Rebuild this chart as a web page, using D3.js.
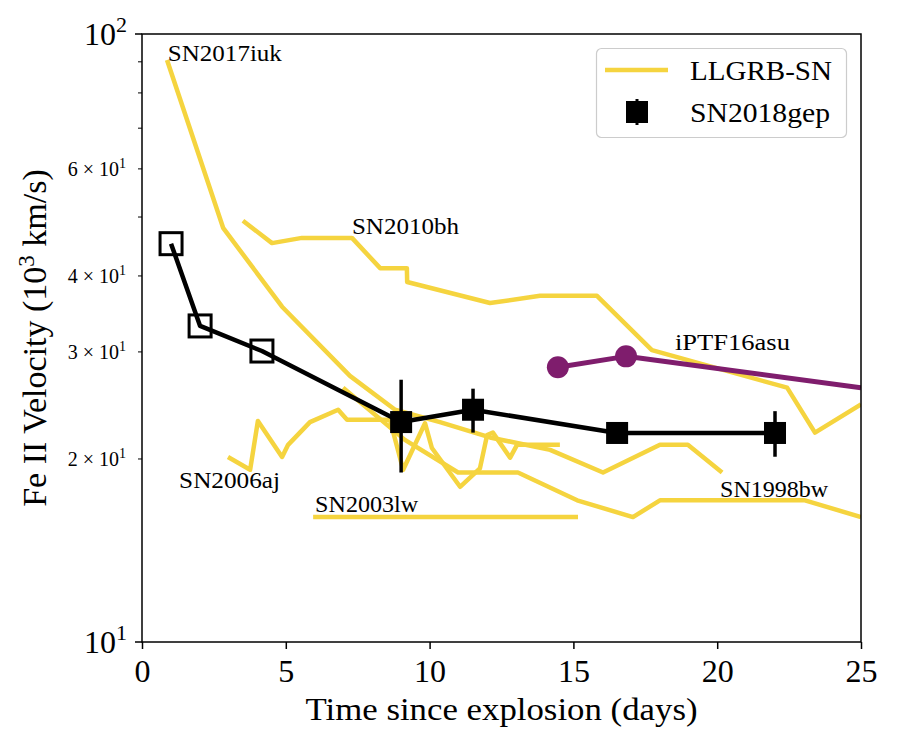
<!DOCTYPE html>
<html><head><meta charset="utf-8">
<script src="https://cdn.jsdelivr.net/npm/d3@7"></script>
<style>
body{margin:0;background:#fff}
text{font-family:"Liberation Serif","Times New Roman",serif;fill:#000}
</style>
</head><body>
<svg id="c" width="900" height="750"></svg>
<script>
// ---- data ----
const xTicks = [0, 5, 10, 15, 20, 25];
const yMajor = [10, 100];
const yMinor = [20, 30, 40, 50, 60, 70, 80, 90];
const yMinorLabeled = [20, 30, 40, 60];

const sn2017iuk_t = [0.87, 2.82, 4.87, 7.23, 8.80, 10.36, 12.10, 14.19, 16.03, 18.01, 18.98, 20.17];
const sn2017iuk_v = [90.6, 48.0, 35.6, 27.4, 24.1, 23.0, 21.7, 20.7, 19.0, 21.1, 21.1, 19.0];

const sn1998bw_t = [6.99, 9.14, 10.99, 13.07, 15.13, 17.07, 18.01, 23.05, 25.0];
const sn1998bw_v = [26.2, 21.5, 19.0, 19.0, 17.1, 16.05, 17.1, 17.1, 16.05];

const sn2010bh_t = [3.51, 4.52, 5.56, 7.30, 8.28, 9.21, 9.22, 12.10, 13.84, 15.82, 17.73, 22.43, 23.40, 25.0];
const sn2010bh_v = [49.3, 45.3, 46.2, 46.2, 41.2, 41.2, 39.1, 36.1, 37.1, 37.1, 30.2, 26.2, 22.1, 24.6];

const sn2006aj_t = [2.99, 3.76, 4.03, 4.87, 5.08, 5.84, 6.82, 7.13, 8.62, 9.08, 9.84, 10.08, 11.06, 11.75, 12.0, 12.2, 12.8, 13.04, 14.53];
const sn2006aj_v = [20.15, 19.2, 23.1, 20.15, 21.1, 23.0, 24.1, 23.2, 23.2, 19.2, 22.9, 20.85, 18.0, 19.3, 21.9, 22.1, 20.1, 21.1, 21.1];

const sn2003lw_t = [5.95, 15.16];
const sn2003lw_v = [16.05, 16.05];

const iptf16asu_t = [14.46, 16.83, 25.0];
const iptf16asu_v = [28.3, 29.5, 26.2];
const iptf16asu_marked = [true, true, false];

const sn2018gep_t = [1.01, 2.02, 4.17, 9.01, 11.51, 16.52, 22.01];
const sn2018gep_v = [45.2, 33.1, 30.1, 23.0, 24.1, 22.07, 22.07];
const sn2018gep_err = [0, 0, 0, 4.0, 2.0, 0.5, 1.9];
const sn2018gep_open = [true, true, true, false, false, false, false];

const labelNames = ["SN2017iuk", "SN2010bh", "iPTF16asu", "SN2006aj", "SN2003lw", "SN1998bw"];
const labelT = [0.90, 7.30, 18.53, 1.29, 6.02, 20.10];
const labelV = [90.3, 46.9, 30.2, 17.9, 16.36, 17.32];
const labelW = [114, 107, 115, 101, 103, 108];

const legendNames = ["LLGRB-SN", "SN2018gep"];

// ---- layout ----
const L = 142, R = 861, T = 34, B = 642;
const YELLOW = "#f5d43f", PURPLE = "#7f1d6d";

const svg = d3.select("#c");
const x = d3.scaleLinear().domain([0, 25]).range([L, R]);
const y = d3.scaleLog().domain([10, 100]).range([B, T]);

svg.append("defs").append("clipPath").attr("id", "clip")
  .append("rect").attr("x", L).attr("y", T).attr("width", R - L).attr("height", B - T);

const plot = svg.append("g").attr("clip-path", "url(#clip)");
const line = d3.line().x(d => x(d[0])).y(d => y(d[1]));
const zip = (a, b) => a.map((v, i) => [v, b[i]]);

const yellowSeries = [
  zip(sn2017iuk_t, sn2017iuk_v),
  zip(sn1998bw_t, sn1998bw_v),
  zip(sn2010bh_t, sn2010bh_v),
  zip(sn2006aj_t, sn2006aj_v),
  zip(sn2003lw_t, sn2003lw_v)
];
plot.selectAll("path.ll").data(yellowSeries).enter().append("path")
  .attr("class", "ll").attr("d", line)
  .attr("fill", "none").attr("stroke", YELLOW).attr("stroke-width", 4.5)
  .attr("stroke-linejoin", "round").attr("stroke-linecap", "butt");

// iPTF16asu
const iptf = zip(iptf16asu_t, iptf16asu_v);
plot.append("path").attr("d", line(iptf)).attr("fill", "none")
  .attr("stroke", PURPLE).attr("stroke-width", 5).attr("stroke-linejoin", "round");
plot.selectAll("circle.ip").data(iptf.filter((d, i) => iptf16asu_marked[i])).enter()
  .append("circle").attr("class", "ip")
  .attr("cx", d => x(d[0])).attr("cy", d => y(d[1])).attr("r", 11).attr("fill", PURPLE);

// SN2018gep
const gep = sn2018gep_t.map((t, i) => ({t, v: sn2018gep_v[i], e: sn2018gep_err[i], open: sn2018gep_open[i]}));
plot.append("path").attr("d", line(gep.map(d => [d.t, d.v]))).attr("fill", "none")
  .attr("stroke", "#000").attr("stroke-width", 4.5).attr("stroke-linejoin", "round");
gep.filter(d => d.e > 0).forEach(d => {
  plot.append("line").attr("x1", x(d.t)).attr("x2", x(d.t))
    .attr("y1", y(d.v + d.e)).attr("y2", y(d.v - d.e))
    .attr("stroke", "#000").attr("stroke-width", 3.5);
});
const S = 22;
gep.forEach(d => {
  plot.append("rect").attr("x", x(d.t) - S / 2).attr("y", y(d.v) - S / 2)
    .attr("width", S).attr("height", S)
    .attr("fill", d.open ? "none" : "#000")
    .attr("stroke", "#000").attr("stroke-width", d.open ? 3 : 0);
});

// annotations
labelNames.forEach((n, i) => {
  svg.append("text").attr("x", x(labelT[i])).attr("y", y(labelV[i]))
    .attr("font-size", 24).attr("textLength", labelW[i]).attr("lengthAdjust", "spacingAndGlyphs")
    .text(n);
});

// frame
svg.append("rect").attr("x", L).attr("y", T).attr("width", R - L).attr("height", B - T)
  .attr("fill", "none").attr("stroke", "#000").attr("stroke-width", 1.5);

// x axis
const xa = svg.append("g").attr("transform", `translate(0,${B})`)
  .call(d3.axisBottom(x).tickValues(xTicks).tickSize(7).tickPadding(10).tickFormat(d3.format("d")));
xa.select(".domain").remove();
xa.selectAll("line").attr("stroke-width", 1.5);
xa.selectAll("text").attr("font-size", 32).attr("font-family", "Liberation Serif, serif");

// y axis major/minor ticks
const ya = svg.append("g");
yMajor.forEach(v => ya.append("line").attr("x1", L - 7).attr("x2", L).attr("y1", y(v)).attr("y2", y(v)).attr("stroke", "#000").attr("stroke-width", 1.5));
yMinor.forEach(v => ya.append("line").attr("x1", L - 4).attr("x2", L).attr("y1", y(v)).attr("y2", y(v)).attr("stroke", "#000").attr("stroke-width", 1));
yMajor.forEach(v => {
  const t = ya.append("text").attr("x", 127).attr("y", y(v) + 11).attr("text-anchor", "end").attr("font-size", 32);
  t.append("tspan").text("10");
  t.append("tspan").attr("font-size", 22).attr("dy", -13).text(String(Math.round(Math.log10(v))));
});
yMinorLabeled.forEach(v => {
  const m = v / 10;
  const t = ya.append("text").attr("x", 126).attr("y", y(v) + 7).attr("text-anchor", "end").attr("font-size", 20);
  t.append("tspan").text(m + " \u00d7 10");
  t.append("tspan").attr("font-size", 14).attr("dy", -8).text("1");
});

// axis labels
svg.append("text").attr("x", (L + R) / 2).attr("y", 720).attr("text-anchor", "middle")
  .attr("font-size", 32).attr("textLength", 392).attr("lengthAdjust", "spacingAndGlyphs")
  .text("Time since explosion (days)");
const yl = svg.append("text").attr("transform", `translate(46,${(T + B) / 2}) rotate(-90)`)
  .attr("text-anchor", "middle").attr("font-size", 34);
yl.append("tspan").text("Fe II Velocity (10");
yl.append("tspan").attr("font-size", 23).attr("dy", -12).text("3");
yl.append("tspan").attr("dy", 12).text(" km/s)");

// legend
const lg = svg.append("g");
lg.append("rect").attr("x", 596.5).attr("y", 48.5).attr("width", 250).attr("height", 89).attr("rx", 5)
  .attr("fill", "#fff").attr("fill-opacity", 0.8).attr("stroke", "#cccccc").attr("stroke-width", 1.2);
lg.append("line").attr("x1", 605).attr("x2", 668).attr("y1", 70).attr("y2", 70)
  .attr("stroke", YELLOW).attr("stroke-width", 4.5);
lg.append("line").attr("x1", 637).attr("x2", 637).attr("y1", 99).attr("y2", 125)
  .attr("stroke", "#000").attr("stroke-width", 3);
lg.append("rect").attr("x", 637 - 11).attr("y", 112 - 11).attr("width", 22).attr("height", 22).attr("fill", "#000");
lg.append("text").attr("x", 690).attr("y", 80).attr("font-size", 28).attr("textLength", 142).attr("lengthAdjust", "spacingAndGlyphs").text(legendNames[0]);
lg.append("text").attr("x", 690).attr("y", 122).attr("font-size", 28).attr("textLength", 140).attr("lengthAdjust", "spacingAndGlyphs").text(legendNames[1]);
</script>
</body></html>
